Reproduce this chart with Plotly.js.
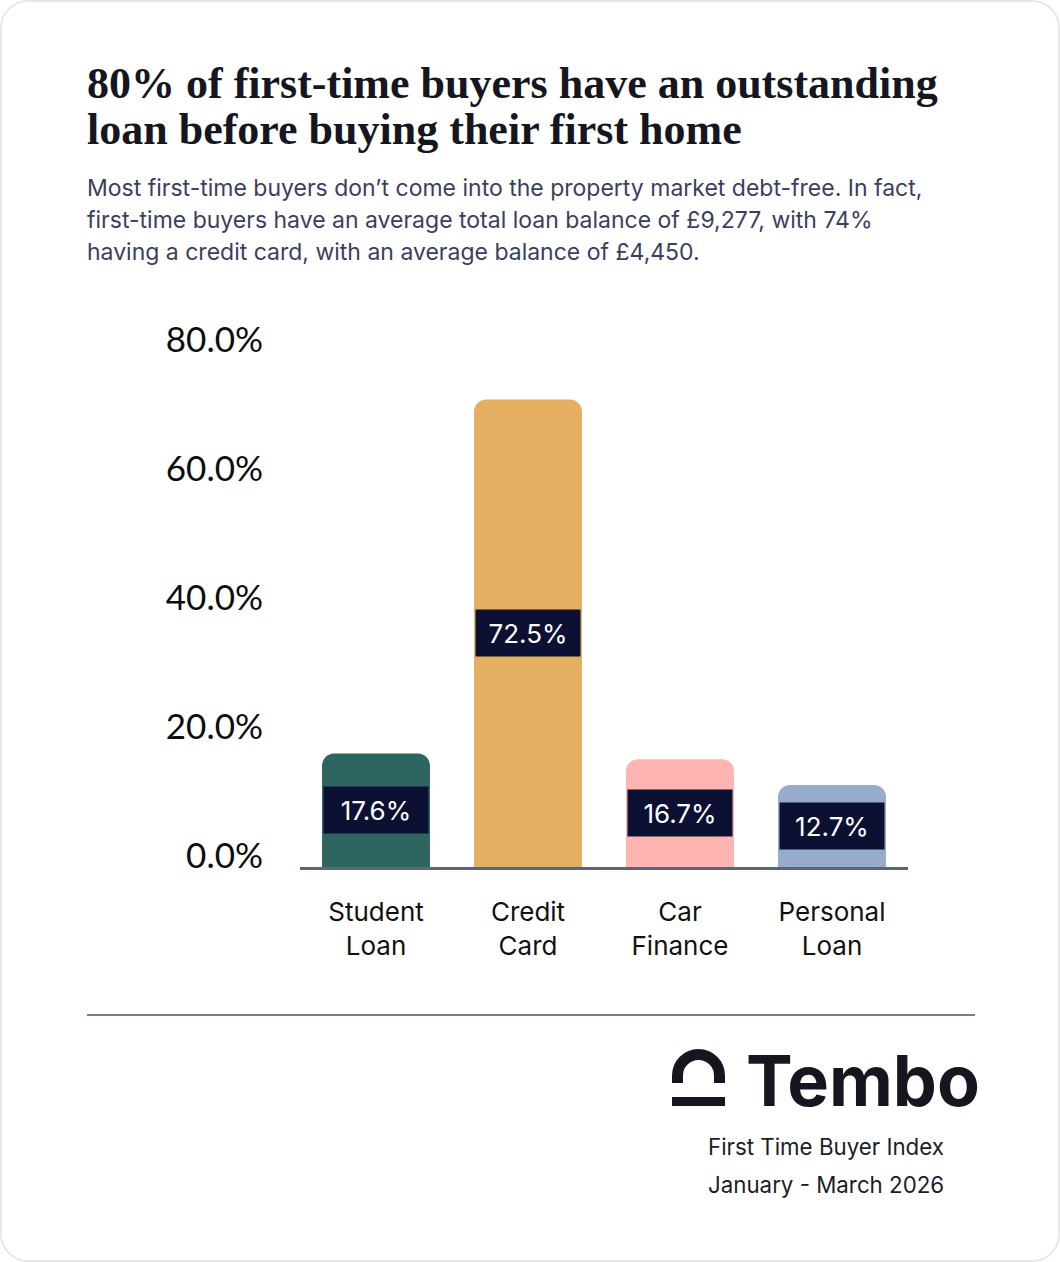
<!DOCTYPE html>
<html>
<head>
<meta charset="utf-8">
<script src="https://cdn.plot.ly/plotly-3.0.1.min.js"></script>
<style>
  html, body { margin: 0; padding: 0; background: #ffffff; }
  #wrap { width: 1060px; height: 1262px; box-sizing: border-box; border: 2px solid #e7e7e9; border-radius: 28px; overflow: hidden; background: #fff; }
  #chart { width: 1056px; height: 1258px; }
</style>
</head>
<body>
<div id="wrap"><div id="chart"></div></div>
<script>
// ---- data ----
const categories = ["Student<br>Loan", "Credit<br>Card", "Car<br>Finance", "Personal<br>Loan"];
const values = [17.6, 72.5, 16.7, 12.7];
const barColors = ["#2d6561", "#e4af60", "#feb4b1", "#97abcc"];
const valueLabels = ["17.6%", "72.5%", "16.7%", "12.7%"];
const yTickVals = [0, 20, 40, 60, 80];
const yTickText = ["0.0%", "20.0%", "40.0%", "60.0%", "80.0%"];
const titleLines = ["80% of first-time buyers have an outstanding", "loan before buying their first home"];
const subtitleLines = [
  "Most first-time buyers don’t come into the property market debt-free. In fact,",
  "first-time buyers have an average total loan balance of £9,277, with 74%",
  "having a credit card, with an average balance of £4,450."
];
const brandName = "Tembo";
const footerLines = ["First Time Buyer Index", "January - March 2026"];

// ---- layout geometry ----
const W = 1056, H = 1258;
const M = { l: 298, r: 150, t: 328, b: 393 };
const PW = W - M.l - M.r, PH = H - M.t - M.b;
const px = x => (x - 2 - M.l) / PW;
const py = y => (H - M.b - (y - 2)) / PH;
const yMax = PH / 6.45;

const trace = {
  type: "bar",
  x: categories,
  y: values,
  marker: { color: barColors, cornerradius: 12 },
  width: 0.71,
  hoverinfo: "skip",
  showlegend: false
};

const annotations = [];
// value labels in dark boxes at the middle of each bar
values.forEach((v, i) => {
  annotations.push({
    x: categories[i], y: v / 2, xref: "x", yref: "y",
    text: valueLabels[i], showarrow: false,
    xanchor: "center", yanchor: "middle",
    bgcolor: "#0c1032", borderpad: 8, width: 88, height: 30,
    font: { family: "Inter, 'Noto Sans', sans-serif", size: 26, color: "#ffffff" }
  });
});
// title lines
titleLines.forEach((t, i) => {
  annotations.push({
    x: px(85), y: py(84 + i * 45), xref: "paper", yref: "paper",
    xanchor: "left", yanchor: "middle", showarrow: false, text: "<b>" + t + "</b>",
    font: { family: "'Liberation Serif', 'DejaVu Serif', serif", size: 44, color: "#15161f" }
  });
});
// subtitle lines
subtitleLines.forEach((t, i) => {
  annotations.push({
    x: px(85), y: py(188 + i * 32), xref: "paper", yref: "paper",
    xanchor: "left", yanchor: "middle", showarrow: false, text: t,
    font: { family: "Inter, 'Noto Sans', sans-serif", size: 23, color: "#3c3e60" }
  });
});
// brand
annotations.push({
  x: px(744), y: py(1080), xref: "paper", yref: "paper",
  xanchor: "left", yanchor: "middle", showarrow: false, text: brandName,
  font: { family: "Inter, sans-serif", size: 70, weight: 700, color: "#15161f" }
});
footerLines.forEach((t, i) => {
  annotations.push({
    x: px(706), y: py(1146 + i * 38), xref: "paper", yref: "paper",
    xanchor: "left", yanchor: "middle", showarrow: false, text: t,
    font: { family: "Inter, 'Noto Sans', sans-serif", size: 22.3, color: "#1b1c2a" }
  });
});

const shapes = [
  // divider
  { type: "line", xref: "paper", yref: "paper", x0: px(87), x1: px(975), y0: py(1015), y1: py(1015),
    line: { color: "#4b4e6b", width: 1.5 } },
  // logo arch
  { type: "path", xref: "paper", yref: "paper",
    path: `M ${px(677.5)},${py(1083)} L ${px(677.5)},${py(1075.5)} C ${px(677.5)},${py(1063.9)} ${px(686.9)},${py(1054.5)} ${px(698.5)},${py(1054.5)} C ${px(710.1)},${py(1054.5)} ${px(719.5)},${py(1063.9)} ${px(719.5)},${py(1075.5)} L ${px(719.5)},${py(1083)}`,
    line: { color: "#15161f", width: 11 }, fillcolor: "rgba(0,0,0,0)" },
  // logo bar
  { type: "rect", xref: "paper", yref: "paper", x0: px(672), x1: px(725), y0: py(1106), y1: py(1097),
    line: { width: 0 }, fillcolor: "#15161f" }
];

const layout = {
  width: W, height: H,
  margin: M,
  paper_bgcolor: "#ffffff", plot_bgcolor: "#ffffff",
  bargap: 0.29,
  showlegend: false,
  xaxis: {
    type: "category",
    range: [-0.5, 3.5],
    showline: true, linecolor: "#5f627f", linewidth: 3,
    showgrid: false, zeroline: false, ticks: "",
    ticklabelstandoff: 20,
    tickfont: { family: "Inter, 'Noto Sans', sans-serif", size: 26, color: "#111111" },
    fixedrange: true
  },
  yaxis: {
    range: [0, yMax],
    tickvals: yTickVals, ticktext: yTickText,
    showline: false, showgrid: false, zeroline: false, ticks: "",
    ticklabelstandoff: 36,
    ticklabelshift: -11,
    tickfont: { family: "Lato, 'Noto Sans', sans-serif", size: 35, color: "#0d0d0d" },
    fixedrange: true
  },
  annotations: annotations,
  shapes: shapes
};

Plotly.newPlot("chart", [trace], layout, { displayModeBar: false, staticPlot: true });
</script>
</body>
</html>
